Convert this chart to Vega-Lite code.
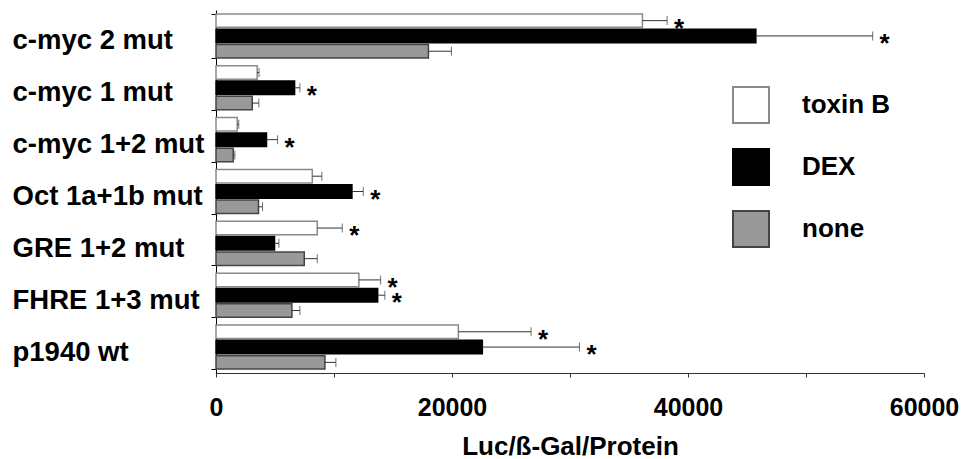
{
  "$schema": "https://vega.github.io/schema/vega-lite/v6.json",
  "width": 708,
  "height": 363,
  "autosize": {"type": "none"},
  "padding": {"left": 216, "top": 10, "right": 51, "bottom": 86},
  "background": "white",
  "config": {
    "view": {"stroke": null},
    "font": "Liberation Sans",
    "legend": {
      "orient": "none",
      "legendX": 516,
      "legendY": 76,
      "symbolType": "square",
      "symbolSize": 1296,
      "symbolStrokeWidth": 2,
      "labelFont": "Liberation Sans",
      "labelFontSize": 26,
      "labelFontWeight": "bold",
      "labelColor": "#000000",
      "labelOffset": 32,
      "rowPadding": 18,
      "padding": 0,
      "labelLimit": 300
    }
  },
  "data": {
    "values": [
      {"gene": "c-myc 2 mut", "treatment": "toxin B", "value": 36140, "err": 38230, "sig": true},
      {"gene": "c-myc 2 mut", "treatment": "DEX", "value": 45750, "err": 55650, "sig": true},
      {"gene": "c-myc 2 mut", "treatment": "none", "value": 18000, "err": 19950, "sig": false},
      {"gene": "c-myc 1 mut", "treatment": "toxin B", "value": 3490, "err": 3650, "sig": false},
      {"gene": "c-myc 1 mut", "treatment": "DEX", "value": 6660, "err": 7110, "sig": true},
      {"gene": "c-myc 1 mut", "treatment": "none", "value": 3070, "err": 3630, "sig": false},
      {"gene": "c-myc 1+2 mut", "treatment": "toxin B", "value": 1800, "err": 1930, "sig": false},
      {"gene": "c-myc 1+2 mut", "treatment": "DEX", "value": 4280, "err": 5220, "sig": true},
      {"gene": "c-myc 1+2 mut", "treatment": "none", "value": 1460, "err": 1600, "sig": false},
      {"gene": "Oct 1a+1b mut", "treatment": "toxin B", "value": 8160, "err": 8970, "sig": false},
      {"gene": "Oct 1a+1b mut", "treatment": "DEX", "value": 11520, "err": 12480, "sig": true},
      {"gene": "Oct 1a+1b mut", "treatment": "none", "value": 3600, "err": 3940, "sig": false},
      {"gene": "GRE 1+2 mut", "treatment": "toxin B", "value": 8580, "err": 10700, "sig": true},
      {"gene": "GRE 1+2 mut", "treatment": "DEX", "value": 4960, "err": 5330, "sig": false},
      {"gene": "GRE 1+2 mut", "treatment": "none", "value": 7480, "err": 8580, "sig": false},
      {"gene": "FHRE 1+3 mut", "treatment": "toxin B", "value": 12110, "err": 13950, "sig": true},
      {"gene": "FHRE 1+3 mut", "treatment": "DEX", "value": 13700, "err": 14310, "sig": true},
      {"gene": "FHRE 1+3 mut", "treatment": "none", "value": 6430, "err": 7110, "sig": false},
      {"gene": "p1940 wt", "treatment": "toxin B", "value": 20540, "err": 26700, "sig": true},
      {"gene": "p1940 wt", "treatment": "DEX", "value": 22570, "err": 30800, "sig": true},
      {"gene": "p1940 wt", "treatment": "none", "value": 9230, "err": 10160, "sig": false}
    ]
  },
  "encoding": {
    "y": {
      "field": "gene",
      "type": "nominal",
      "sort": ["c-myc 2 mut", "c-myc 1 mut", "c-myc 1+2 mut", "Oct 1a+1b mut", "GRE 1+2 mut", "FHRE 1+3 mut", "p1940 wt"],
      "scale": {"paddingInner": 0.15, "paddingOuter": 0.075},
      "axis": {
        "title": null,
        "tickBand": "extent",
        "tickSize": 5,
        "tickColor": "#000000",
        "domainColor": "#000000",
        "labelAlign": "left",
        "labelPadding": 199,
        "labelBaseline": "middle",
        "labelOffset": 5,
        "labelFont": "Liberation Sans",
        "labelFontSize": 27.5,
        "labelFontWeight": "bold",
        "labelColor": "#000000",
        "labelLimit": 300
      }
    },
    "yOffset": {
      "field": "treatment",
      "type": "nominal",
      "sort": ["toxin B", "DEX", "none"],
      "scale": {"paddingInner": 0.12, "paddingOuter": 0}
    }
  },
  "layer": [
    {
      "mark": {"type": "bar", "strokeWidth": 1.5},
      "encoding": {
        "x": {
          "field": "value",
          "type": "quantitative",
          "scale": {"domain": [0, 60000], "nice": false},
          "axis": {
            "title": "Luc/ß-Gal/Protein",
            "values": [0, 10000, 20000, 30000, 40000, 50000, 60000],
            "labelExpr": "datum.value % 20000 === 0 ? format(datum.value, 'd') : ''",
            "grid": false,
            "tickSize": 4,
            "tickColor": "#333333",
            "domainColor": "#333333",
            "labelFont": "Liberation Sans",
            "labelFontSize": 25,
            "labelFontWeight": "bold",
            "labelColor": "#000000",
            "labelBaseline": "alphabetic",
            "labelPadding": 38,
            "labelFlush": false,
            "labelOverlap": false,
            "titleFont": "Liberation Sans",
            "titleFontSize": 26,
            "titleFontWeight": "bold",
            "titleColor": "#000000",
            "titleBaseline": "alphabetic",
            "titleY": 81
          }
        },
        "fill": {
          "field": "treatment",
          "type": "nominal",
          "sort": ["toxin B", "DEX", "none"],
          "scale": {"domain": ["toxin B", "DEX", "none"], "range": ["#ffffff", "#000000", "#999999"]},
          "legend": {"title": null}
        },
        "stroke": {
          "field": "treatment",
          "type": "nominal",
          "sort": ["toxin B", "DEX", "none"],
          "scale": {"domain": ["toxin B", "DEX", "none"], "range": ["#8a8a8a", "#000000", "#444444"]},
          "legend": {"title": null}
        }
      }
    },
    {
      "mark": {"type": "rule", "color": "#333333", "strokeWidth": 1},
      "encoding": {
        "x": {"field": "value", "type": "quantitative"},
        "x2": {"field": "err"}
      }
    },
    {
      "mark": {"type": "tick", "color": "#333333", "thickness": 1, "size": 9, "orient": "vertical"},
      "encoding": {
        "x": {"field": "err", "type": "quantitative"}
      }
    },
    {
      "transform": [{"filter": "datum.sig"}],
      "mark": {"type": "text", "text": "*", "font": "Liberation Sans", "fontSize": 26, "fontWeight": "bold", "align": "center", "baseline": "alphabetic", "dx": 12, "dy": 16, "color": "#000000"},
      "encoding": {
        "x": {"field": "err", "type": "quantitative"}
      }
    }
  ]
}
